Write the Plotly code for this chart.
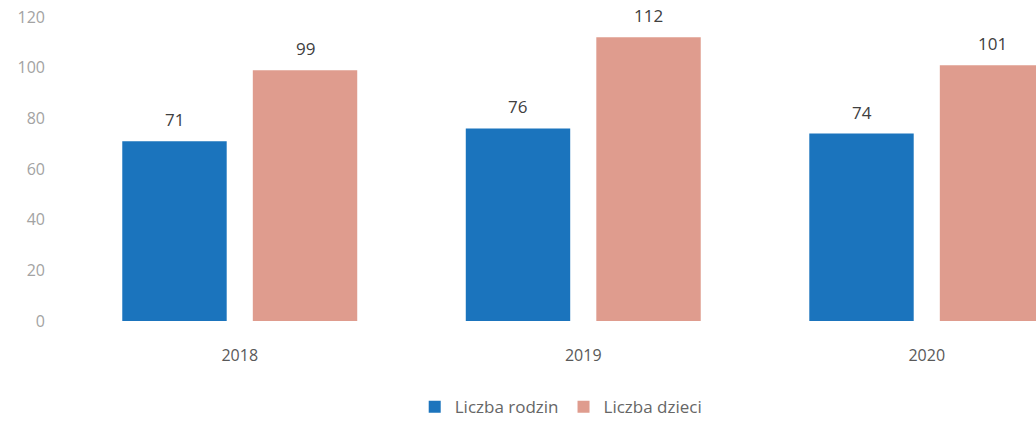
import plotly.graph_objects as go

years = ["2018", "2019", "2020"]
rodzin = [71, 76, 74]
dzieci = [99, 112, 101]
series_names = ["Liczba rodzin", "Liczba dzieci"]
y_ticks = [0, 20, 40, 60, 80, 100, 120]

BLUE = "#1B74BD"
PINK = "#DF9C8E"
FONT = "Open Sans"

bargap = 0.24
bargroupgap = 0.2
margin_l, margin_r, margin_t, margin_b = 68, 0, 17, 100
W, H = 1036, 421
x_range = [-0.5, 2.318]
px_per_unit = (W - margin_l - margin_r) / (x_range[1] - x_range[0])
slot = (1 - bargap) / 2
shift_px = slot / 2 * px_per_unit

fig = go.Figure()
fig.add_trace(go.Bar(x=years, y=rodzin, name=series_names[0], marker=dict(color=BLUE, line=dict(width=0))))
fig.add_trace(go.Bar(x=years, y=dzieci, name=series_names[1], marker=dict(color=PINK, line=dict(width=0))))

for vals, sgn in ((rodzin, -1), (dzieci, 1)):
    for i, v in enumerate(vals):
        fig.add_annotation(x=i, y=v, xref="x", yref="y", text=str(v), showarrow=False,
                           yanchor="bottom", xanchor="center", xshift=sgn * shift_px, yshift=8,
                           font=dict(family=FONT, size=17, color="#404040"))

fig.update_layout(
    width=W, height=H,
    margin=dict(l=margin_l, r=margin_r, t=margin_t, b=margin_b),
    paper_bgcolor="white", plot_bgcolor="white",
    barmode="group", bargap=bargap, bargroupgap=bargroupgap,
    font=dict(family=FONT),
    showlegend=True,
    legend=dict(orientation="h", x=0.509, xanchor="center", y=0.033, yref="container", yanchor="middle",
                font=dict(family=FONT, size=17, color="#666666"), itemwidth=30, traceorder="normal"),
    xaxis=dict(type="category", range=x_range, showgrid=False, zeroline=False, showline=False, ticks="",
               ticklabelstandoff=23, tickfont=dict(family=FONT, size=16, color="#595959")),
    yaxis=dict(range=[0, 120], tickvals=y_ticks, showgrid=False, zeroline=False, showline=False, ticks="",
               ticklabelstandoff=22, tickfont=dict(family=FONT, size=16, color="#A3A3A3")),
)

fig.write_html("out.html", config={"displayModeBar": False},
               post_script="document.body.style.margin='0';document.body.style.overflow='hidden';")
